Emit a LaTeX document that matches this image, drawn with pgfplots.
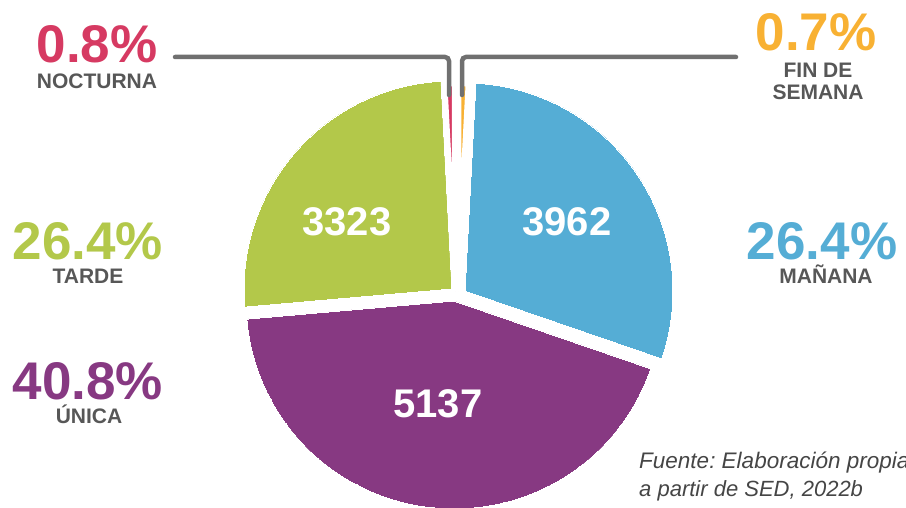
\documentclass[border=0pt]{standalone}
\usepackage{pgfplots}
\pgfplotsset{compat=1.18}
\usepackage{fontspec}
\setmainfont{Liberation Sans}
\frenchspacing
\definecolor{cman}{HTML}{55ADD5}
\definecolor{cuni}{HTML}{873982}
\definecolor{ctar}{HTML}{B3C84A}
\definecolor{cnoc}{HTML}{D63A62}
\definecolor{cfin}{HTML}{F8B133}
\definecolor{ctxt}{HTML}{575757}
\definecolor{cline}{HTML}{707070}
\definecolor{cnote}{HTML}{454545}
% slice: start angle, span (deg, clockwise), colour, centre x, centre y, border width
\newcommand{\pieslice}[6]{%
  \addplot[fill=#3, draw=white, line width=#6, samples=63, domain=0:62, variable=\t]
    ({#4 + ((\t>0.5)*(\t<61.5))*208*cos(#1-#2*min(max(\t-1,0),60)/60)},
     {#5 - ((\t>0.5)*(\t<61.5))*208*sin(#1-#2*min(max(\t-1,0),60)/60)});
}
\begin{document}
\begin{tikzpicture}
\path[use as bounding box] (0,0) rectangle (906bp,508bp);
\clip (0,0) rectangle (906bp,508bp);
\begin{axis}[at={(0,0)}, anchor=south west, scale only axis,
  width=906bp, height=508bp, xmin=0, xmax=906, ymin=0, ymax=508,
  y dir=reverse, hide axis, clip=false]
% Values: Fin de semana 88 (0.7%), Mañana 3962, Única 5137, Tarde 3323, Nocturna 100 (0.8%)
% angular spans as drawn in the chart (deg): 3, 106, 156, 92, 3
\pieslice{90}{3}{cfin}{458}{291}{6.5bp}
\pieslice{87}{106}{cman}{465}{291}{0pt}
\pieslice{-19}{156}{cuni}{454}{301}{0pt}
\pieslice{-175}{92}{ctar}{452}{289}{0pt}
\pieslice{-267}{3}{cnoc}{455}{291}{6.5bp}
% leader lines
\addplot[draw=cline, line width=4.5bp, line cap=round, rounded corners=4bp] coordinates {(175,57) (449,57) (449,95)};
\addplot[draw=cline, line width=4.5bp, line cap=round, rounded corners=4bp] coordinates {(736,57) (462,57) (462,95)};
% slice values
\tikzset{every node/.style={inner sep=0pt}}
\node[anchor=base, text=white, font=\fontsize{40bp}{40bp}\selectfont\bfseries] at (axis cs:347,235) {3323};
\node[anchor=base, text=white, font=\fontsize{40bp}{40bp}\selectfont\bfseries] at (axis cs:567,235) {3962};
\node[anchor=base, text=white, font=\fontsize{40bp}{40bp}\selectfont\bfseries] at (axis cs:438,417) {5137};
% percentages
\node[anchor=base, text=cnoc, font=\fontsize{53bp}{53bp}\selectfont\bfseries] at (axis cs:97,63) {0.8\%};
\node[anchor=base, text=ctxt, font=\fontsize{21bp}{21bp}\selectfont\bfseries] at (axis cs:97,89) {NOCTURNA};
\node[anchor=base, text=cfin, font=\fontsize{53bp}{53bp}\selectfont\bfseries] at (axis cs:816,51) {0.7\%};
\node[anchor=base, text=ctxt, font=\fontsize{21bp}{21bp}\selectfont\bfseries] at (axis cs:818,77.5) {FIN DE};
\node[anchor=base, text=ctxt, font=\fontsize{21bp}{21bp}\selectfont\bfseries] at (axis cs:818,99.5) {SEMANA};
\node[anchor=base, text=ctar, font=\fontsize{53bp}{53bp}\selectfont\bfseries] at (axis cs:88,259) {26.4\%};
\node[anchor=base, text=ctxt, font=\fontsize{21bp}{21bp}\selectfont\bfseries] at (axis cs:88,283) {TARDE};
\node[anchor=base, text=cuni, font=\fontsize{53bp}{53bp}\selectfont\bfseries] at (axis cs:88,399) {40.8\%};
\node[anchor=base, text=ctxt, font=\fontsize{21bp}{21bp}\selectfont\bfseries] at (axis cs:89,423) {ÚNICA};
\node[anchor=base, text=cman, font=\fontsize{53bp}{53bp}\selectfont\bfseries] at (axis cs:822,259) {26.4\%};
\node[anchor=base, text=ctxt, font=\fontsize{21bp}{21bp}\selectfont\bfseries] at (axis cs:826,283) {MAÑANA};
% source
\node[anchor=base west, text=cnote, font=\fontsize{22.5bp}{22.5bp}\selectfont\itshape] at (axis cs:639,468) {Fuente: Elaboración propia};
\node[anchor=base west, text=cnote, font=\fontsize{22bp}{22bp}\selectfont\itshape] at (axis cs:639,496) {a partir de SED, 2022b};
\end{axis}
\end{tikzpicture}
\end{document}
